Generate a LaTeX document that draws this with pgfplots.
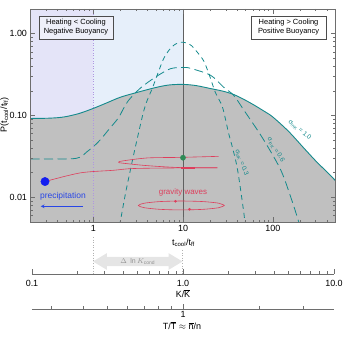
\documentclass[border=0pt]{standalone}
\usepackage{pgfplots}
\pgfplotsset{compat=1.18}
\usepackage{pgfplotstable}
\usepgfplotslibrary{fillbetween}
\usetikzlibrary{shapes.arrows,shadows}
\usepackage{fontspec}
\setmainfont{Liberation Sans}

\definecolor{tealc}{RGB}{20,138,140}
\definecolor{shade}{RGB}{192,192,192}
\definecolor{lav}{RGB}{228,228,248}
\definecolor{lblue}{RGB}{230,239,250}
\definecolor{boxfill}{RGB}{238,240,249}
\definecolor{wave}{RGB}{222,62,92}
\definecolor{precip}{RGB}{20,30,240}
\definecolor{plabel}{RGB}{40,70,230}
\definecolor{frame}{RGB}{110,110,110}
\definecolor{dotc}{RGB}{46,139,87}

% sigma_lnK = 1.0
\pgfplotstableread{
t p
0.2 0.092
0.3 0.0925
0.4 0.094
0.5 0.097
0.7 0.106
1 0.122
1.4 0.142
2 0.167
3 0.19
5 0.22
7 0.236
10 0.240
14 0.232
20 0.214
28 0.198
37 0.180
50 0.153
62 0.134
80 0.113
100 0.096
150 0.064
222 0.040
300 0.028
400 0.0205
500 0.016
}\sigone

% sigma_lnK = 0.6
\pgfplotstableread{
t p
0.2 0.0294
0.5 0.0295
0.65 0.030
0.75 0.032
0.85 0.036
1.0 0.0415
1.2 0.0505
1.5 0.068
1.9 0.093
2.16 0.12
2.46 0.152
3.35 0.216
4.9 0.293
7.2 0.372
10 0.387
12.1 0.377
20.3 0.31
28.3 0.222
36.6 0.177
47.5 0.117
77 0.053
122 0.0219
160 0.0098
195 0.005
210 0.0038
}\sigsix

% sigma_lnK = 0.3
\pgfplotstableread{
t p
1.9 0.0035
2.0 0.005
2.3 0.0115
2.7 0.0266
3.0 0.045
3.6 0.107
4.0 0.154
4.56 0.216
5.3 0.337
6.06 0.49
7.0 0.63
8.0 0.73
9.0 0.775
10 0.785
11 0.77
12.5 0.71
14.3 0.60
16.9 0.47
19.3 0.33
23 0.19
27.5 0.127
32.2 0.061
35.7 0.040
40.5 0.0219
47 0.0072
49 0.005
52 0.0035
}\sigthree

\begin{document}
\begin{tikzpicture}
\begin{axis}[
  at={(30.5bp,115bp)}, anchor=south west,
  scale only axis, width=305bp, height=213bp,
  xmode=log, ymode=log,
  xmin=0.2, xmax=500, ymin=0.005, ymax=2,
  xtick={1,10,100}, xticklabels={1,10,100},
  ytick={0.01,0.1,1}, yticklabels={0.01,0.10,1.00},
  minor xtick={0.2,0.3,0.4,0.5,0.6,0.7,0.8,0.9,2,3,4,5,6,7,8,9,20,30,40,50,60,70,80,90,200,300,400,500},
  minor ytick={0.005,0.006,0.007,0.008,0.009,0.02,0.03,0.04,0.05,0.06,0.07,0.08,0.09,0.2,0.3,0.4,0.5,0.6,0.7,0.8,0.9,2},
  tick align=inside,
  major tick length=5bp, minor tick length=2.5bp,
  axis line style={frame, line width=0.6bp},
  every tick/.style={frame, line width=0.5bp},
  tick label style={font=\fontsize{9}{10}\selectfont},
  axis on top,
  fill between/on layer=main,
]
% background regions
\addplot[draw=none, fill=lav] coordinates {(0.2,0.005) (0.2,2) (1,2) (1,0.005)} -- cycle;
\addplot[draw=none, fill=lblue] coordinates {(1,0.005) (1,2) (10,2) (10,0.005)} -- cycle;

% shaded area under sigma = 1.0
\addplot[name path=s10, draw=none, smooth] table[x=t, y=p] {\sigone};
\addplot[name path=base, draw=none] coordinates {(0.2,0.005) (500,0.005)};
\addplot[fill=shade, draw=none] fill between[of=s10 and base];

% reference lines
\addplot[color={rgb,255:red,175;green,150;blue,225}, dotted, line width=0.6bp] coordinates {(1,0.005) (1,2)};
\addplot[color=gray!75!black, line width=1bp] coordinates {(10,0.005) (10,2)};

% model curves
\addplot[tealc, line width=0.8bp, smooth, dash pattern=on 9bp off 4.5bp] table[x=t, y=p] {\sigsix};
\addplot[tealc, line width=0.8bp, smooth, dash pattern=on 5bp off 4bp] table[x=t, y=p] {\sigthree};
\addplot[tealc, line width=0.9bp, smooth] table[x=t, y=p] {\sigone};

% trajectories
\addplot[wave, line width=0.6bp, smooth] coordinates {
  (0.29,0.0156) (0.716,0.0199) (1.67,0.0214) (2.8,0.0225) (9.4,0.0229) (24.2,0.0229)};
\addplot[wave, line width=0.6bp, smooth] coordinates {
  (24.9,0.0317) (9.4,0.0308) (4,0.0303) (2.1,0.0278) (1.92,0.0268) (2.1,0.0262) (4,0.0244) (9.4,0.0231) (24.2,0.0230)};
\addplot[wave, line width=1.4bp] coordinates {(9.4,0.0229) (13.5,0.0229)};
\addplot[wave, line width=0.6bp, smooth] coordinates {
  (29.0,0.00796) (25.1,0.00848) (16.7,0.00888) (9.6,0.00902) (5.53,0.00888) (3.69,0.00848)
  (3.18,0.00796) (3.69,0.00748) (5.53,0.00714) (9.6,0.00702) (16.7,0.00714) (25.1,0.00748) (29.0,0.00796)};
\addplot[wave, only marks, mark=*, mark size=1.1bp] coordinates {(8.24,0.00895) (11.8,0.00716)};
\addplot[dotc, only marks, mark=*, mark size=2.6bp] coordinates {(10,0.0305)};
\addplot[precip, only marks, mark=*, mark size=4.2bp] coordinates {(0.29,0.0156)};

% labels
\node[text=wave, font=\fontsize{8}{9}\selectfont] at (axis cs:10,0.0115) {gravity waves};
\node[text=plabel, font=\fontsize{8.5}{9}\selectfont] at (axis cs:0.46,0.0103) {precipitation};
\draw[plabel, -stealth, line width=0.7bp] (axis cs:0.77,0.00778) -- (axis cs:0.26,0.00778);
\node[text=tealc, rotate=-70, inner sep=0.5bp, font=\fontsize{6.5}{7}\selectfont] at (axis cs:45,0.0266) {σ\textsubscript{lnK} = 0.3};
\node[text=tealc, rotate=-59, inner sep=0.5bp, font=\fontsize{6.5}{7}\selectfont] at (axis cs:108,0.038) {σ\textsubscript{lnK} = 0.6};
\node[text=tealc, rotate=-40, inner sep=0.5bp, font=\fontsize{6.5}{7}\selectfont] at (axis cs:200,0.0667) {σ\textsubscript{lnK} = 1.0};

\node[draw=black!70, fill=boxfill, line width=0.6bp, align=center, minimum width=74bp, minimum height=23bp,
  inner sep=1bp, font=\fontsize{7.5}{9}\selectfont,
  drop shadow={shadow xshift=1.2bp, shadow yshift=-1.2bp, fill=black!40, opacity=1}]
  at (rel axis cs:0.149,0.913) {Heating < Cooling\\Negative Buoyancy};
\node[draw=black!70, fill=white, line width=0.6bp, align=center, minimum width=75bp, minimum height=23bp,
  inner sep=1bp, font=\fontsize{7.5}{9}\selectfont,
  drop shadow={shadow xshift=1.2bp, shadow yshift=-1.2bp, fill=black!40, opacity=1}]
  at (rel axis cs:0.846,0.913) {Heating > Cooling\\Positive Buoyancy};
\end{axis}

% K / Kbar axis
\begin{axis}[
  at={(32bp,63bp)}, anchor=south west,
  scale only axis, width=302bp, height=20bp,
  xmode=log, xmin=0.1, xmax=10, ymin=0, ymax=1,
  axis x line*=bottom, hide y axis,
  xtick={0.1,1,10}, xticklabels={0.1,1.0,10.0},
  minor xtick={0.2,0.3,0.4,0.5,0.6,0.7,0.8,0.9,2,3,4,5,6,7,8,9},
  tick align=inside,
  major tick length=5bp, minor tick length=3bp,
  axis line style={frame, line width=0.6bp},
  every tick/.style={frame, line width=0.5bp},
  xticklabel style={font=\fontsize{9}{10}\selectfont, yshift=-3bp},
]
\addplot[draw=none] coordinates {(1,0.5)};
\end{axis}

% T / Tbar axis
\begin{axis}[
  at={(32bp,28bp)}, anchor=south west,
  scale only axis, width=302bp, height=20bp,
  xmode=log, xmin=0.2512, xmax=3.981, ymin=0, ymax=1,
  axis x line*=bottom, hide y axis,
  xtick={1}, xticklabels={1},
  minor xtick={0.3,0.4,0.5,0.6,0.7,0.8,0.9,2,3},
  tick align=inside,
  major tick length=5bp, minor tick length=3bp,
  axis line style={frame, line width=0.6bp},
  every tick/.style={frame, line width=0.5bp},
  xticklabel style={font=\fontsize{9}{10}\selectfont, yshift=1bp},
]
\addplot[draw=none] coordinates {(1,0.5)};
\end{axis}

% axis titles
\node[rotate=90, font=\fontsize{9}{10}\selectfont] at (4.5bp,222bp) {P(t\textsubscript{cool}/t\textsubscript{ff})};
\node[font=\fontsize{9}{10}\selectfont] at (183.5bp,94bp) {t\textsubscript{cool}/t\textsubscript{ff}};
\node[font=\fontsize{9}{10}\selectfont] at (183bp,43.5bp) {K/$\overline{\mbox{K}}$};
\node[font=\fontsize{9}{10}\selectfont] at (182bp,11.5bp) {T/$\overline{\mbox{T}}$ $\approx$ $\overline{\mbox{n}}$/n};

% condensation range
\draw[gray!60, dotted, line width=0.6bp] (93bp,100bp) -- (93bp,63bp);
\draw[gray!60, dotted, line width=0.6bp] (182.5bp,87bp) -- (182.5bp,63bp);
\node[double arrow, double arrow head extend=3.8bp, double arrow tip angle=62, fill=gray!20, draw=none,
  minimum height=89.5bp, inner sep=1.2bp, text=gray!85, font=\fontsize{7}{8}\selectfont]
  at (137.75bp,75.5bp) {$\Delta\ \ln K_{\mathrm{cond}}$};

\pgfresetboundingbox
\path[use as bounding box] (0,0) rectangle (349bp,337bp);
\end{tikzpicture}
\end{document}
